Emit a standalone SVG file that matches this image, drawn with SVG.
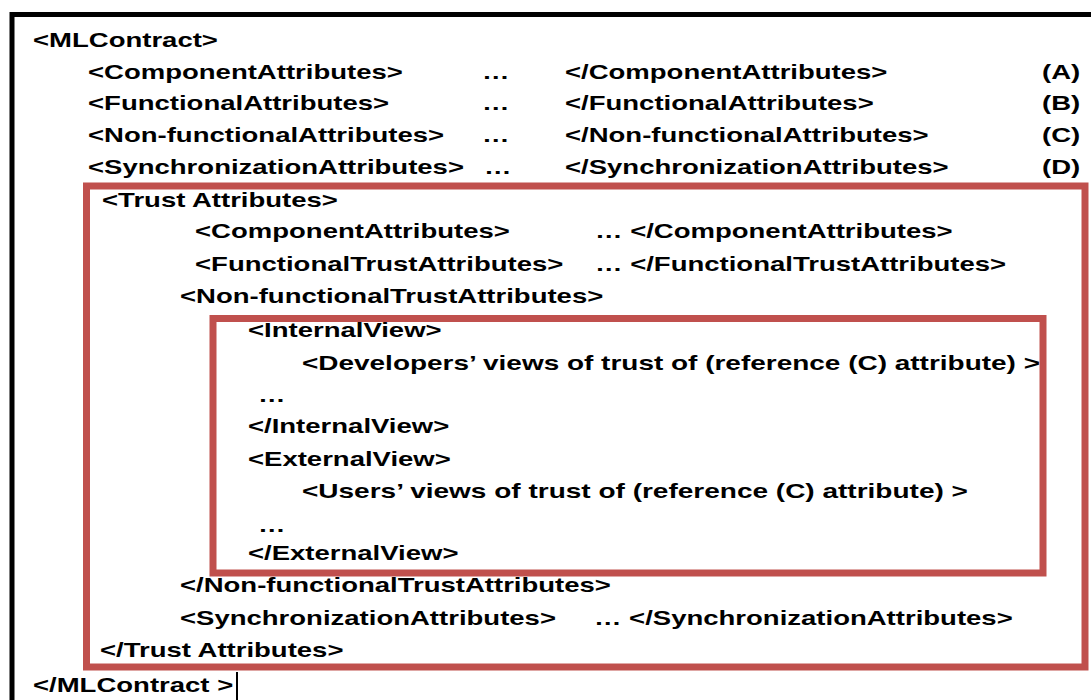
<svg xmlns="http://www.w3.org/2000/svg" width="1091" height="700" viewBox="0 0 1091 700">
  <style>
    .t { font-family: "Liberation Sans", Arial, sans-serif; font-weight: bold; font-size: 21px; fill: #000; }
    .frame { fill: none; stroke: #000; stroke-width: 5; }
    .box { fill: none; stroke: #c0504d; stroke-width: 7; }
  </style>
  <rect width="1091" height="700" fill="#fff"/>

  <!-- outer page frame -->
  <rect id="contract-frame" class="frame" x="12" y="14.5" width="1100" height="700"/>

  <!-- contract text, laid out in a horizontally widened coordinate system -->
  <g id="contract-text" transform="scale(1.31 1)">
    <text class="t" x="25.2" y="47">&lt;MLContract&gt;</text>

    <text class="t" x="67.2" y="79">&lt;ComponentAttributes&gt;</text>
    <text class="t" x="367.9" y="79">…</text>
    <text class="t" x="431.3" y="79">&lt;/ComponentAttributes&gt;</text>
    <text class="t" x="795.4" y="79">(A)</text>

    <text class="t" x="67.2" y="110">&lt;FunctionalAttributes&gt;</text>
    <text class="t" x="367.9" y="110">…</text>
    <text class="t" x="431.3" y="110">&lt;/FunctionalAttributes&gt;</text>
    <text class="t" x="795.4" y="110">(B)</text>

    <text class="t" x="67.2" y="142">&lt;Non-functionalAttributes&gt;</text>
    <text class="t" x="367.9" y="142">…</text>
    <text class="t" x="431.3" y="142">&lt;/Non-functionalAttributes&gt;</text>
    <text class="t" x="795.4" y="142">(C)</text>

    <text class="t" x="67.2" y="174">&lt;SynchronizationAttributes&gt;</text>
    <text class="t" x="369.5" y="174">…</text>
    <text class="t" x="431.3" y="174">&lt;/SynchronizationAttributes&gt;</text>
    <text class="t" x="795.4" y="174">(D)</text>

    <text class="t" x="77.9" y="207">&lt;Trust Attributes&gt;</text>
    <text class="t" x="148.9" y="238">&lt;ComponentAttributes&gt;</text>
    <text class="t" x="454.2" y="238">… &lt;/ComponentAttributes&gt;</text>
    <text class="t" x="148.9" y="271">&lt;FunctionalTrustAttributes&gt;</text>
    <text class="t" x="454.2" y="271">… &lt;/FunctionalTrustAttributes&gt;</text>
    <text class="t" x="137.4" y="303">&lt;Non-functionalTrustAttributes&gt;</text>

    <text class="t" x="189.3" y="337">&lt;InternalView&gt;</text>
    <text class="t" x="230.5" y="370" textLength="563.4" lengthAdjust="spacingAndGlyphs">&lt;Developers’ views of trust of (reference (C) attribute) &gt;</text>
    <text class="t" x="196.9" y="402">…</text>
    <text class="t" x="189.3" y="433">&lt;/InternalView&gt;</text>
    <text class="t" x="189.3" y="466">&lt;ExternalView&gt;</text>
    <text class="t" x="230.5" y="498" textLength="508.4" lengthAdjust="spacingAndGlyphs">&lt;Users’ views of trust of (reference (C) attribute) &gt;</text>
    <text class="t" x="196.9" y="532">…</text>
    <text class="t" x="189.3" y="560">&lt;/ExternalView&gt;</text>

    <text class="t" x="137.4" y="592">&lt;/Non-functionalTrustAttributes&gt;</text>
    <text class="t" x="137.4" y="625">&lt;SynchronizationAttributes&gt;</text>
    <text class="t" x="453.4" y="625">… &lt;/SynchronizationAttributes&gt;</text>
    <text class="t" x="76.3" y="657">&lt;/Trust Attributes&gt;</text>

    <text class="t" x="25.2" y="692">&lt;/MLContract &gt;</text>
  </g>

  <!-- highlight boxes -->
  <rect id="trust-box" class="box" x="86.5" y="186" width="998.5" height="481"/>
  <rect id="view-box" class="box" x="213" y="318.5" width="830" height="254.5"/>

  <!-- text cursor -->
  <line id="cursor" x1="237" y1="672" x2="237" y2="700" stroke="#000" stroke-width="2"/>
</svg>
